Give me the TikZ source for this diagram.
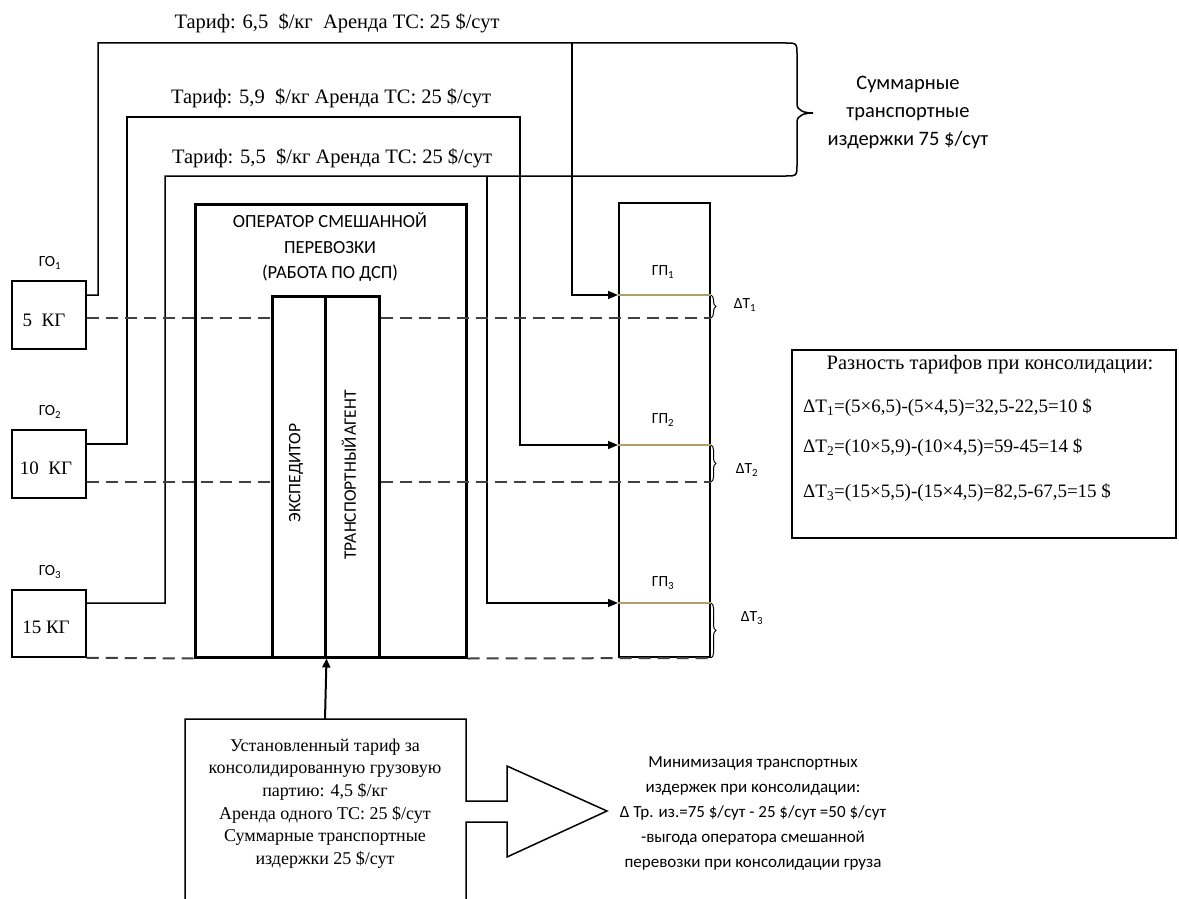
\documentclass[tikz,border=0pt]{standalone}
\usepackage{fontspec}
\setmainfont{Liberation Serif}
\newfontfamily\calfont{Carlito}
\usetikzlibrary{arrows.meta,decorations.pathreplacing,calc}
\begin{document}
\begin{tikzpicture}[x=1pt,y=-1pt,
  conn/.style={line width=1.5pt,line join=miter},
  arr/.style={conn,-{Triangle[length=10pt,width=8pt]}},
  dline/.style={line width=2pt,black!75,dash pattern=on 12pt off 7pt},
  olive/.style={line width=1.2pt,draw={rgb,255:red,176;green,160;blue,104}},
  box/.style={draw,line width=1.5pt,inner sep=0pt},
  thickbox/.style={draw,line width=3pt,inner sep=0pt},
  tms/.style={font=\fontsize{19}{22}\selectfont,inner sep=0pt},
  tmsW/.style={font=\fontsize{20.5}{24}\selectfont,inner sep=0pt},
  tmsb/.style={font=\fontsize{18}{22.6}\selectfont,inner sep=0pt,align=center},
  cal/.style={font=\calfont\fontsize{18.5}{25.5}\selectfont,inner sep=0pt,align=center},
  calR/.style={font=\calfont\fontsize{17.5}{20}\selectfont,inner sep=0pt},
  calL/.style={font=\calfont\fontsize{20.5}{28}\selectfont,inner sep=0pt,align=center},
  calM/.style={font=\calfont\fontsize{17}{25}\selectfont,inner sep=0pt,align=center},
  calS/.style={font=\calfont\fontsize{15.5}{18}\selectfont,inner sep=0pt},
  brc/.style={line width=1pt,decorate,decoration={brace,amplitude=5pt}}
]
\useasboundingbox (0,0) rectangle (1179,899);

% sender boxes
\node[box,minimum width=74pt,minimum height=68pt] (go1) at (49,315) {};
\node[box,minimum width=74pt,minimum height=68pt] (go2) at (49,464) {};
\node[box,minimum width=74pt,minimum height=67pt] (go3) at (49,623.5) {};
\node[calS] (go1l) at (50,263) {ГО\textsubscript{1}};
\node[calS] (go2l) at (50,412) {ГО\textsubscript{2}};
\node[calS] (go3l) at (50,572) {ГО\textsubscript{3}};
\node[tms] (go1t) at (44,320) {5\ \ КГ};
\node[tms] (go2t) at (46,468) {10\ \ КГ};
\node[tms] (go3t) at (46,627) {15 КГ};

% operator
\node[thickbox,minimum width=271pt,minimum height=453pt] (op) at (330.5,430.5) {};
\node[thickbox,minimum width=53pt,minimum height=361pt] (exp) at (298.5,476.5) {};
\node[thickbox,minimum width=54pt,minimum height=361pt] (ta) at (352,476.5) {};
\node[cal] (opt) at (330,247) {ОПЕРАТОР СМЕШАННОЙ\\ПЕРЕВОЗКИ\\(РАБОТА ПО ДСП)};
\node[calR,rotate=90] (expt) at (296,473) {ЭКСПЕДИТОР};
\node[calR,rotate=90] (tat) at (349,475) {ТРАНСПОРТНЫЙ\hspace{1.5pt}АГЕНТ};

% receivers
\node[draw,line width=2pt,inner sep=0pt,minimum width=91pt,minimum height=454pt] (gp) at (664.5,430) {};
\node[calS] (gp1l) at (663,272) {ГП\textsubscript{1}};
\node[calS] (gp2l) at (663,420) {ГП\textsubscript{2}};
\node[calS] (gp3l) at (663,583) {ГП\textsubscript{3}};
\node[calS] (dt1) at (745,305) {ΔТ\textsubscript{1}};
\node[calS] (dt2) at (747,470) {ΔТ\textsubscript{2}};
\node[calS] (dt3) at (752,618) {ΔТ\textsubscript{3}};

% tariff labels
\node[tmsW] (l1) at (337,23) {Тариф: 6,5\ \ \$/кг\ \ Аренда ТС: 25 \$/сут};
\node[tmsW] (l2) at (331,98) {Тариф: 5,9\ \ \$/кг Аренда ТС: 25 \$/сут};
\node[tmsW] (l3) at (332,158) {Тариф: 5,5\ \ \$/кг Аренда ТС: 25 \$/сут};
\node[calL] (sum) at (908,113) {Суммарные\\транспортные\\издержки 75 \$/сут};

% routes
\coordinate (b1) at (572,43);
\coordinate (b3) at (487,176);
\draw[conn] (go1.east|-0,295) -- (98,295) -- (98,43) -- (786,43)
  .. controls (797,43) .. (797,54) -- (797,104)
  .. controls (797,111) and (805,113) .. (813,113)
  .. controls (805,113) and (797,115) .. (797,122) -- (797,165)
  .. controls (797,176) .. (786,176) -- (165,176) -- (165,603) -- (go3.east|-0,603);
\draw[arr] (b1) -- (572,295) -- (gp.west|-0,295);
\draw[arr] (b3) -- (487,603) -- (gp.west|-0,603);
\draw[arr] (go2.east|-0,444) -- (127,444) -- (127,117) -- (520,117) -- (520,445) -- (gp.west|-0,445);

% olive lines
\draw[olive] (gp.west|-0,295) -- (gp.east|-0,295);
\draw[olive] (gp.west|-0,445) -- (gp.east|-0,445);
\draw[olive] (gp.west|-0,603) -- (gp.east|-0,603);

% dashed lines
\draw[dline] (go1.east|-0,318) -- (exp.west|-0,318);
\draw[dline] (ta.east|-0,318) -- (gp.east|-0,318);
\draw[dline] (go2.east|-0,482) -- (exp.west|-0,482);
\draw[dline] (ta.east|-0,482) -- (gp.east|-0,482);
\draw[dline] (go3.south east) -- (op.south west);
\draw[dline] (op.south east) -- (gp.south east);

% small braces
\draw[brc] (gp.east|-0,295) -- (gp.east|-0,318);
\draw[brc] (gp.east|-0,445) -- (gp.east|-0,482);
\draw[brc] (gp.east|-0,603) -- (gp.south east);

% formula box
\node[box,minimum width=384pt,minimum height=188pt] (form) at (984,444) {};
\node[tmsW] (ft) at (990,365) {Разность тарифов при консолидации:};
\node[tms,anchor=west] (f1) at (803,408) {ΔТ\textsubscript{1}=(5×6,5)-(5×4,5)=32,5-22,5=10 \$};
\node[tms,anchor=west] (f2) at (803,448) {ΔТ\textsubscript{2}=(10×5,9)-(10×4,5)=59-45=14 \$};
\node[tms,anchor=west] (f3) at (803,493) {ΔТ\textsubscript{3}=(15×5,5)-(15×4,5)=82,5-67,5=15 \$};

% bottom box with block arrow
\coordinate (tb) at (325,719);
\draw[conn] (185,899) -- (185,719) -- (466,719) -- (466,801) -- (507,801) -- (507,766)
  -- (607,811) -- (507,857) -- (507,822) -- (466,822) -- (466,899);
\node[tmsb] (tarif) at (325,803.5) {Установленный тариф за\\консолидированную грузовую\\партию: 4,5 \$/кг\\Аренда одного ТС: 25 \$/сут\\Суммарные транспортные\\издержки 25 \$/сут};
\draw[line width=2pt,-{Triangle[length=9pt,width=8pt]}] (tb) -- (exp.south east);
\node[calM] (res) at (753,813) {Минимизация транспортных\\издержек при консолидации:\\Δ Тр. из.=75 \$/сут - 25 \$/сут =50 \$/сут\\-выгода оператора смешанной\\перевозки при консолидации груза};
\end{tikzpicture}
\end{document}
